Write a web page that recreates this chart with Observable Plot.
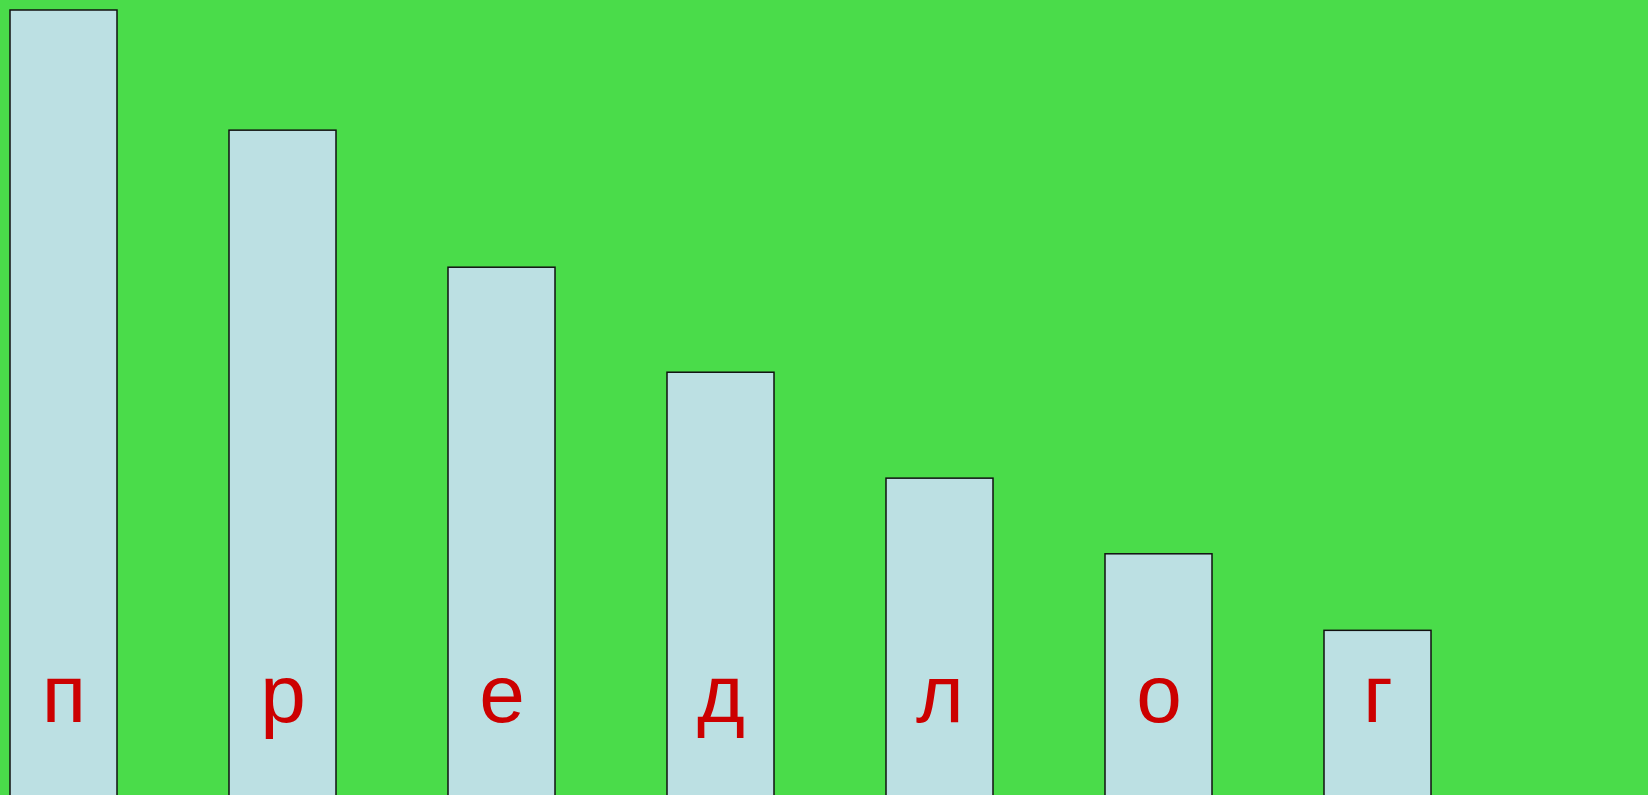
<!DOCTYPE html>
<html>
<head>
<meta charset="utf-8">
<script src="https://cdn.jsdelivr.net/npm/d3@7"></script>
<script src="https://cdn.jsdelivr.net/npm/@observablehq/plot@0.6"></script>
<style>
  html, body { margin: 0; padding: 0; background: #4adc4a; overflow: hidden; }
  #chart svg { display: block; }
</style>
</head>
<body>
<div id="chart"></div>
<script>
const letters = ["п", "р", "е", "д", "л", "о", "г"];
const values = [100, 86.5, 71.1, 59.3, 47.4, 38.9, 30.3];

const data = letters.map((letter, i) => ({letter, value: values[i]}));

const chart = Plot.plot({
  width: 1648,
  height: 900,
  marginTop: 10,
  marginBottom: 0,
  marginLeft: 9.5,
  marginRight: 216,
  style: {background: "#4adc4a", fontFamily: "'Liberation Sans', Arial, sans-serif"},
  x: {domain: letters, paddingInner: 0.512, paddingOuter: 0, axis: null},
  y: {domain: [0, 100], axis: null},
  marks: [
    Plot.barY(data, {x: "letter", y: "value", fill: "#bce0e3", stroke: "#111", strokeWidth: 1.5}),
    Plot.text(data, {x: "letter", y: 20.1, text: "letter", fill: "#cc0000", fontSize: 82, lineAnchor: "bottom", textAnchor: "middle"})
  ]
});
document.getElementById("chart").append(chart);
</script>
</body>
</html>
